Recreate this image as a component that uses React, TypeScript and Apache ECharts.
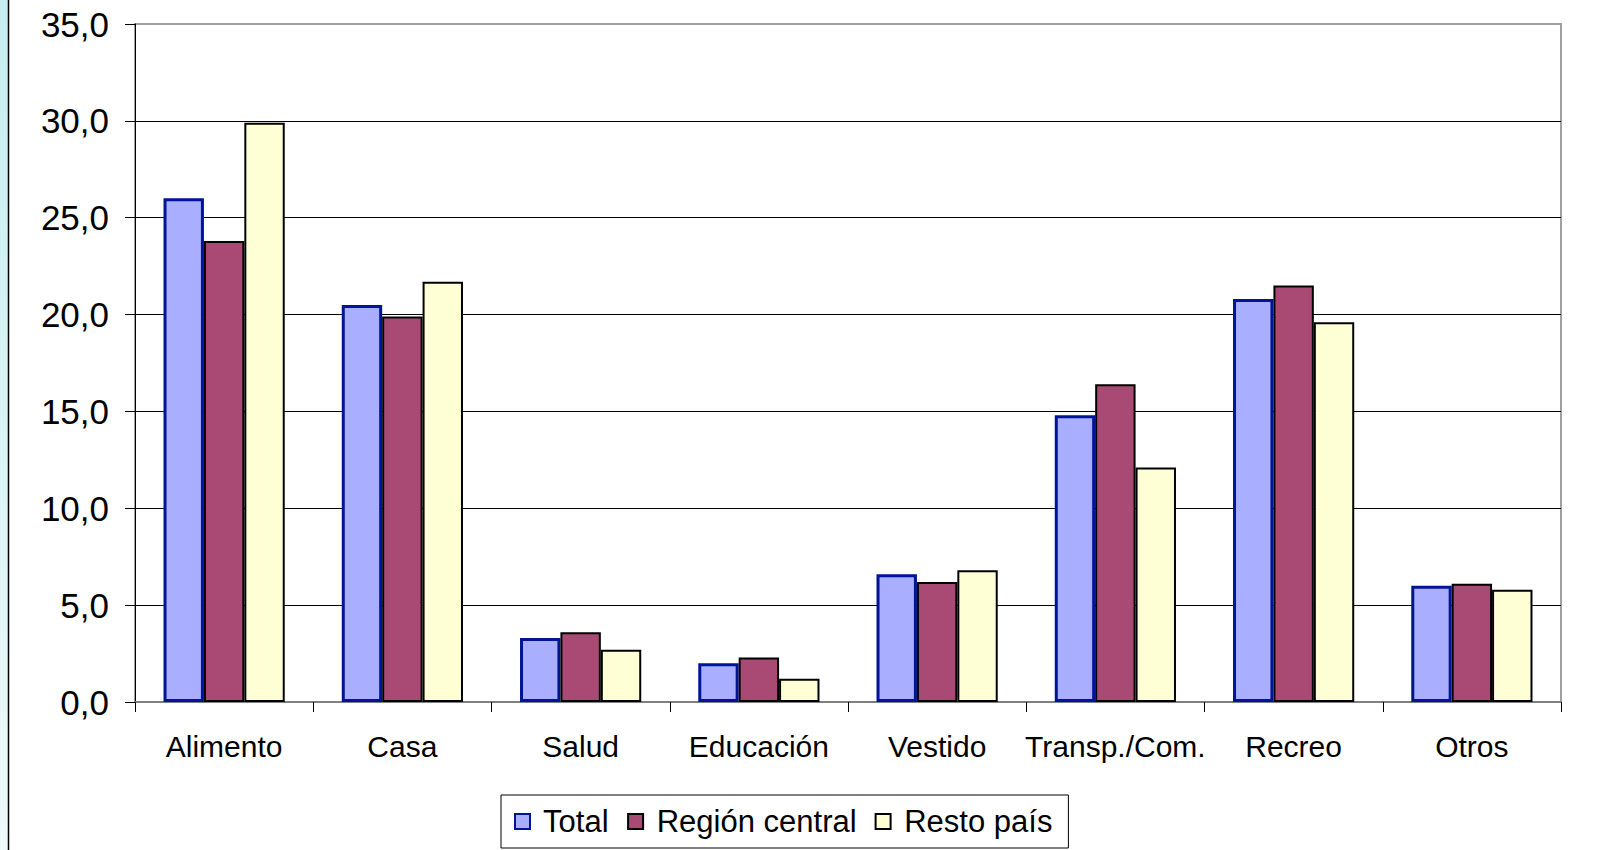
import React, { useEffect, useRef } from "react";
import * as echarts from "echarts";

const categories = ["Alimento", "Casa", "Salud", "Educación", "Vestido", "Transp./Com.", "Recreo", "Otros"];
const totalValues = [26.0, 20.5, 3.3, 2.0, 6.6, 14.8, 20.8, 6.0];
const centralValues = [23.8, 19.9, 3.6, 2.3, 6.2, 16.4, 21.5, 6.1];
const restoValues = [29.9, 21.7, 2.7, 1.2, 6.8, 12.1, 19.6, 5.8];
const seriesNames = ["Total", "Región central", "Resto país"];

const FONT = "'Liberation Sans', Arial, sans-serif";

export default function App() {
  const ref = useRef<HTMLDivElement>(null);
  useEffect(() => {
    if (!ref.current) return;
    const chart = echarts.init(ref.current, null, { renderer: "svg" });
    chart.setOption({
      animation: false,
      backgroundColor: "#ffffff",
      textStyle: { fontFamily: FONT },
      graphic: [
        {
          type: "rect",
          shape: { x: 0, y: 0, width: 8, height: 850 },
          style: {
            fill: new echarts.graphic.LinearGradient(0, 0, 0, 1, [
              { offset: 0, color: "#c6eef0" },
              { offset: 1, color: "#eef9fa" },
            ]),
          },
          silent: true,
        },
        {
          type: "line",
          shape: { x1: 8.5, y1: 0, x2: 8.5, y2: 850 },
          style: { stroke: "#000", lineWidth: 1.5 },
          silent: true,
        },
      ],
      grid: {
        left: 135,
        top: 24,
        width: 1426,
        height: 678,
        show: true,
        borderColor: "#a0a0a0",
        borderWidth: 2,
        backgroundColor: "#ffffff",
      },
      legend: {
        left: 501,
        top: 795,
        orient: "horizontal",
        data: seriesNames,
        itemWidth: 15,
        itemHeight: 15,
        itemGap: 18,
        icon: "rect",
        borderColor: "#000",
        borderWidth: 1,
        padding: [11, 16, 11, 13],
        formatter: (name: string) => " " + name,
        textStyle: { fontSize: 31, color: "#000", fontFamily: FONT },
      },
      xAxis: {
        type: "category",
        data: categories,
        axisLine: { lineStyle: { color: "#808080", width: 2 } },
        axisTick: { show: true, length: 10, lineStyle: { color: "#000", width: 1 } },
        axisLabel: { fontSize: 30, color: "#000", margin: 29, fontFamily: FONT, interval: 0 },
      },
      yAxis: {
        type: "value",
        min: 0,
        max: 35,
        interval: 5,
        axisLine: { show: true, lineStyle: { color: "#000", width: 1 } },
        axisTick: { show: true, length: 10, lineStyle: { color: "#000", width: 1 } },
        axisLabel: {
          fontSize: 35,
          color: "#000",
          margin: 26,
          fontFamily: FONT,
          formatter: (v: number) => v.toFixed(1).replace(".", ","),
        },
        splitLine: { show: true, showMaxLine: false, lineStyle: { color: "#000", width: 1 } },
      },
      series: [
        {
          name: seriesNames[0],
          type: "bar",
          data: totalValues,
          barGap: "0%",
          barCategoryGap: "32%",
          itemStyle: { color: "#aaaeff", borderColor: "#001496", borderWidth: 3 },
        },
        {
          name: seriesNames[1],
          type: "bar",
          data: centralValues,
          barGap: "0%",
          barCategoryGap: "32%",
          itemStyle: { color: "#a94a75", borderColor: "#000", borderWidth: 2 },
        },
        {
          name: seriesNames[2],
          type: "bar",
          data: restoValues,
          barGap: "0%",
          barCategoryGap: "32%",
          itemStyle: { color: "#ffffd6", borderColor: "#000", borderWidth: 2 },
        },
      ],
    });
    return () => chart.dispose();
  }, []);
  return (
    <div
      ref={ref}
      style={{ position: "absolute", left: 0, top: 0, width: 1620, height: 850 }}
    />
  );
}
